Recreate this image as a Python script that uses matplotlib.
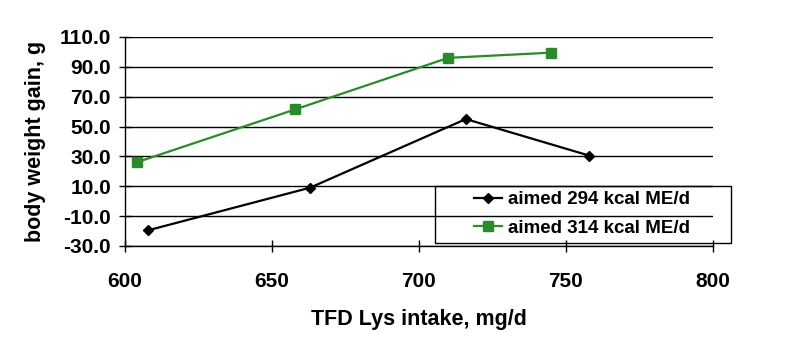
import matplotlib.pyplot as plt
from matplotlib.patches import Rectangle

# data
lys_294 = [608, 663, 716, 758]
gain_294 = [-19.5, 9.0, 55.0, 30.5]
lys_314 = [604, 658, 710, 745]
gain_314 = [26.0, 61.5, 96.0, 99.5]
labels = ["aimed 294 kcal ME/d", "aimed 314 kcal ME/d"]
x_ticks = [600, 650, 700, 750, 800]
y_ticks = [-30, -10, 10, 30, 50, 70, 90, 110]

plt.rcParams['font.family'] = ['Liberation Sans', 'DejaVu Sans']
plt.rcParams['font.weight'] = 'bold'

fig = plt.figure(figsize=(8, 3.59), dpi=100)
ax = fig.add_axes([0.156, 0.315, 0.735, 0.582])

green = '#2b8a2b'
ax.plot(lys_294, gain_294, color='black', marker='D', markersize=5.5, lw=1.6,
        label=labels[0], zorder=3)
ax.plot(lys_314, gain_314, color=green, marker='s', markersize=7, lw=1.6,
        label=labels[1], zorder=3)

ax.set_xlim(600, 800)
ax.set_ylim(-30, 110)
ax.set_xticks(x_ticks)
ax.set_yticks(y_ticks)
ax.set_yticklabels([f"{v:.1f}" for v in y_ticks])
ax.yaxis.grid(True, color='black', lw=1)
ax.set_axisbelow(True)
for s in ['top', 'right']:
    ax.spines[s].set_visible(False)
ax.spines['left'].set_linewidth(1)
ax.spines['bottom'].set_linewidth(1)
ax.tick_params(axis='both', direction='inout', length=8, width=1, labelsize=15)
ax.tick_params(axis='x', pad=15)
ax.tick_params(axis='y', pad=6)

ax.set_xlabel("TFD Lys intake, mg/d", fontsize=15.5, fontweight='bold', labelpad=13)
ax.set_ylabel("body weight gain, g", fontsize=15.5, fontweight='bold', labelpad=10)

# legend box (transparent, extends past the plot area like the original)
box = Rectangle((0.527, 0.016), 0.504, 0.273, transform=ax.transAxes,
                facecolor='none', edgecolor='black', lw=1, clip_on=False, zorder=5)
ax.add_patch(box)
leg = ax.legend(loc='center', bbox_to_anchor=(0.777, 0.1525), borderaxespad=0,
                fontsize=13.5, frameon=False, handlelength=1.5,
                handletextpad=0.3, labelspacing=0.6, borderpad=0)
leg.set_zorder(5)

fig.savefig("out.png", dpi=100)
